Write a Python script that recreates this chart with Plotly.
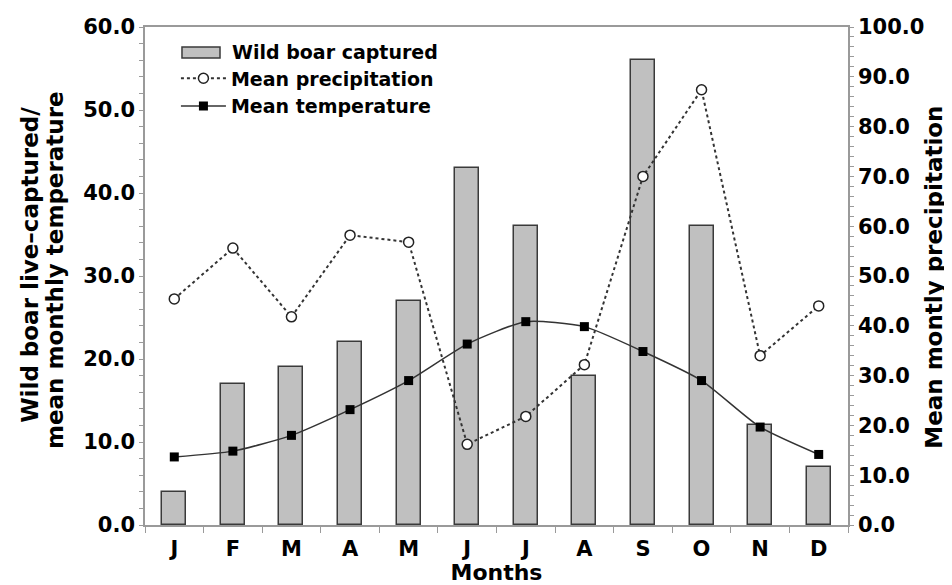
import plotly.graph_objects as go

# dados
meses = ['J', 'F', 'M', 'A', 'M', 'J', 'J', 'A', 'S', 'O', 'N', 'D']
javalis = [4, 17, 19, 22, 27, 43, 36, 18, 56, 36, 12, 7]
precipitacao = [45.4, 55.6, 41.8, 58.2, 56.8, 16.2, 21.8, 32.2, 70.0, 87.4, 34.0, 44.0]
temperatura = [8.2, 8.9, 10.8, 13.9, 17.4, 21.8, 24.5, 23.9, 20.9, 17.4, 11.8, 8.5]

x = list(range(len(meses)))
fonte = 'DejaVu Sans'
cinza = '#9a9a9a'
cor_barra = '#c0c0c0'
borda_barra = '#3a3a3a'

fig = go.Figure()
fig.add_trace(go.Bar(
    x=x, y=javalis, name='Wild boar captured', width=0.41, showlegend=False,
    marker=dict(color=cor_barra, line=dict(color=borda_barra, width=1.5)),
))
fig.add_trace(go.Scatter(
    x=x, y=precipitacao, name='Mean precipitation', yaxis='y2',
    mode='lines+markers',
    line=dict(color='#333333', width=2, dash='dot'),
    marker=dict(symbol='circle', size=10, color='white', line=dict(color='#222222', width=1.5)),
))
fig.add_trace(go.Scatter(
    x=x, y=temperatura, name='Mean temperature',
    mode='lines+markers',
    line=dict(color='#333333', width=1.5, shape='spline', smoothing=0.6),
    marker=dict(symbol='square', size=9, color='black'),
))

# item da legenda das barras (retangulo largo como no original)
fig.add_shape(type='rect', xref='paper', yref='paper',
              x0=0.0526, x1=0.1067, y0=0.938, y1=0.960,
              fillcolor=cor_barra, line=dict(color=borda_barra, width=1.5))
fig.add_annotation(text='Wild boar captured', x=0.121, y=0.95,
                   xref='paper', yref='paper', showarrow=False,
                   xanchor='left', yanchor='middle',
                   font=dict(size=19, weight='bold', family=fonte, color='black'))

# titulos dos eixos y como anotacoes (controle do espacamento das linhas)
titulos = [
    ('Wild boar live–captured/', -0.164, 0.522),
    ('mean monthly temperature', -0.128, 0.512),
    ('Mean montly precipitation', 1.122, 0.498),
]
for texto, px, py in titulos:
    fig.add_annotation(
        text=texto, x=px, y=py, xref='paper', yref='paper',
        textangle=-90, showarrow=False, xanchor='center', yanchor='middle',
        font=dict(size=23, weight='bold', family=fonte, color='black'),
    )

# a pagina tem margem de 8px no body, por isso 944x577
fig.update_layout(
    width=944, height=577,
    margin=dict(l=137, r=104, t=19, b=60),
    plot_bgcolor='white', paper_bgcolor='white',
    font=dict(family=fonte, color='black', size=20, weight='bold'),
    showlegend=True,
    legend=dict(
        x=0.044, y=0.935, xanchor='left', yanchor='top',
        bgcolor='rgba(0,0,0,0)', font=dict(size=19, weight='bold'),
        tracegroupgap=0, itemwidth=45,
    ),
    xaxis=dict(
        range=[-0.5, 11.5], tickvals=x, ticktext=meses, ticks='',
        showline=True, linecolor=cinza, linewidth=1.5, mirror=True,
        showgrid=False, zeroline=False, automargin=False,
        minor=dict(tick0=-0.5, dtick=1, ticks='outside', ticklen=6, tickcolor=cinza),
        tickfont=dict(size=21, weight='bold'), ticklabelstandoff=4,
        title=dict(text='Months', standoff=0, font=dict(size=22, weight='bold')),
    ),
    yaxis=dict(
        range=[0, 60], dtick=10, tickformat='.1f',
        showline=True, linecolor=cinza, linewidth=1.5,
        showgrid=False, zeroline=False, automargin=False,
        ticks='outside', ticklen=4, tickcolor=cinza,
        minor=dict(dtick=2, ticks='outside', ticklen=4, tickcolor=cinza),
        tickfont=dict(size=21, weight='bold'),
    ),
    yaxis2=dict(
        range=[0, 100], dtick=10, tickformat='.1f',
        overlaying='y', side='right',
        showline=True, linecolor=cinza, linewidth=1.5,
        showgrid=False, zeroline=False, automargin=False,
        ticks='outside', ticklen=4, tickcolor=cinza,
        minor=dict(dtick=2, ticks='outside', ticklen=4, tickcolor=cinza),
        tickfont=dict(size=21, weight='bold'),
    ),
    bargap=0,
)

fig.write_html('out.html')
